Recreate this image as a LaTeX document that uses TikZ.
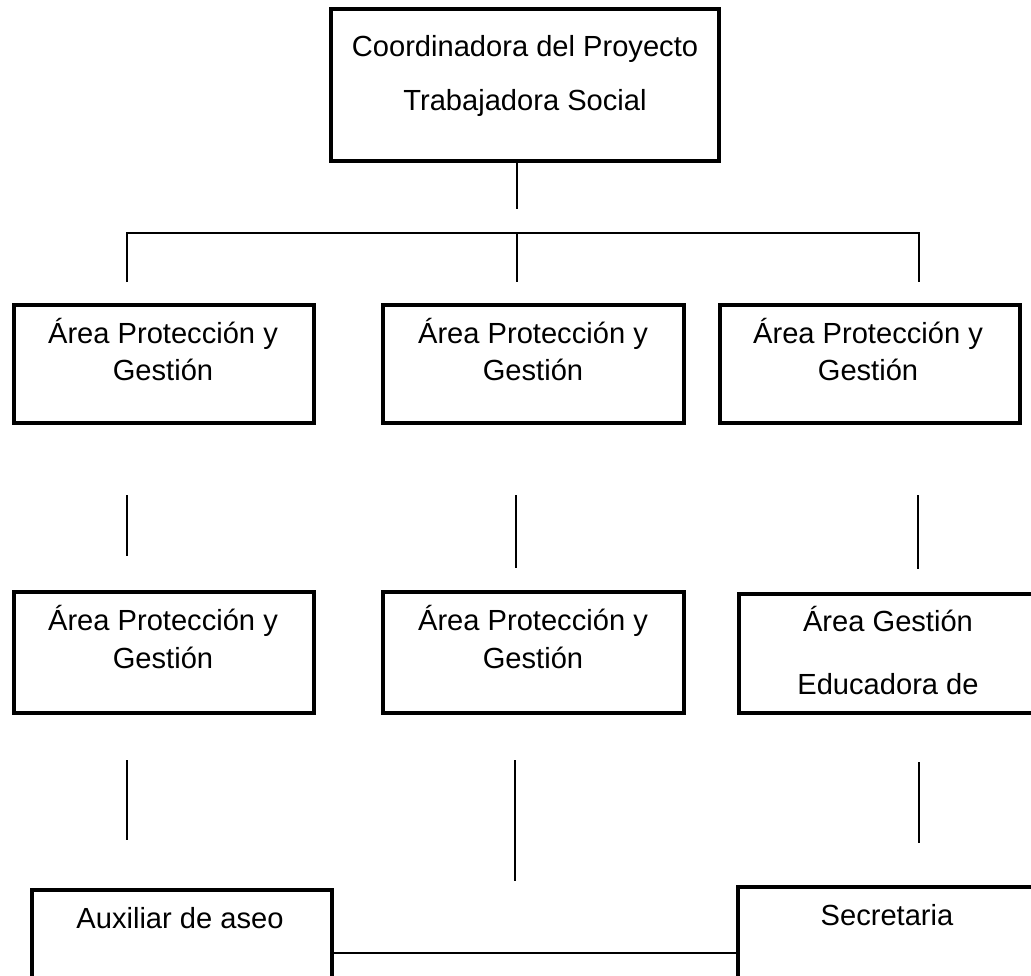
\documentclass[tikz,border=0pt]{standalone}
\usepackage{fontspec}
\setmainfont{Liberation Sans}
\tikzset{
	cargo/.style={draw, line width=1mm, minimum width=7.5cm, minimum height=2.95cm, inner sep=0pt},
	rotulo/.style={anchor=base, inner sep=0pt, font=\fontsize{20.7}{24}\selectfont},
	enlace/.style={line width=1.4pt}
}

\begin{document}
\begin{tikzpicture}[x=0.025cm, y=-0.025cm]
			%%%%% START %%%%%
			\useasboundingbox (0,0) rectangle (1031,975);
			\clip (0,0) rectangle (1031,975);
			
			\node[cargo, minimum width=9.7cm, minimum height=3.8cm] (co) at (525,85) {};
			\node[rotulo] (co-t1) at (525,56) {Coordinadora del Proyecto};
			\node[rotulo] (co-t2) at (525,110) {Trabajadora Social};
			
			\node[cargo] (a1) at (164,364) {};
			\node[cargo] (a2) at (533.5,364) {};
			\node[cargo] (a3) at (870,364) {};
			\node[rotulo] (a1-t1) at (163,343) {Área Protección y};
			\node[rotulo] (a1-t2) at (163,380) {Gestión};
			\node[rotulo] (a2-t1) at (533,343) {Área Protección y};
			\node[rotulo] (a2-t2) at (533,380) {Gestión};
			\node[rotulo] (a3-t1) at (868,343) {Área Protección y};
			\node[rotulo] (a3-t2) at (868,380) {Gestión};
			
			\node[cargo, minimum height=3cm] (b1) at (164,652.5) {};
			\node[cargo, minimum height=3cm] (b2) at (533.5,652.5) {};
			\node[cargo, minimum height=2.975cm] (b3) at (889.5,653.5) {};
			\node[rotulo] (b1-t1) at (163,630) {Área Protección y};
			\node[rotulo] (b1-t2) at (163,668) {Gestión};
			\node[rotulo] (b2-t1) at (533,630) {Área Protección y};
			\node[rotulo] (b2-t2) at (533,668) {Gestión};
			\node[rotulo] (b3-t1) at (888,631) {Área Gestión};
			\node[rotulo] (b3-t2) at (888,694) {Educadora de};
			
			\node[cargo, minimum height=3.75cm] (c1) at (182,965) {};
			\node[cargo, minimum height=3.75cm] (c3) at (888.5,962) {};
			\node[rotulo] (c1-t) at (180,928) {Auxiliar de aseo};
			\node[rotulo] (c3-t) at (887,925) {Secretaria};
			
			% lineas sueltas
			\coordinate (co-b) at (517,209);
			\coordinate (bar-l) at (127,233);
			\coordinate (bar-m) at (517,233);
			\coordinate (bar-r) at (919,233);
			\coordinate (baj-l) at (127,282);
			\coordinate (baj-m) at (517,282);
			\coordinate (baj-r) at (919,282);
			\draw[enlace] (co.south -| co-b) -- (co-b);
			\draw[enlace] (baj-l) -- (bar-l) -- (bar-r) -- (baj-r);
			\draw[enlace] (bar-m) -- (baj-m);
			
			\coordinate (ab-l1) at (127,495);
			\coordinate (ab-l2) at (127,556);
			\coordinate (ab-m1) at (516,495);
			\coordinate (ab-m2) at (516,568);
			\coordinate (ab-r1) at (918,495);
			\coordinate (ab-r2) at (918,569);
			\draw[enlace] (ab-l1) -- (ab-l2);
			\draw[enlace] (ab-m1) -- (ab-m2);
			\draw[enlace] (ab-r1) -- (ab-r2);
			
			\coordinate (bc-l1) at (127,760);
			\coordinate (bc-l2) at (127,840);
			\coordinate (bc-m1) at (515,760);
			\coordinate (bc-m2) at (515,881);
			\coordinate (bc-r1) at (919,762);
			\coordinate (bc-r2) at (919,843);
			\draw[enlace] (bc-l1) -- (bc-l2);
			\draw[enlace] (bc-m1) -- (bc-m2);
			\draw[enlace] (bc-r1) -- (bc-r2);
			
			\coordinate (pie) at (0,953);
			\draw[enlace] (c1.east |- pie) -- (c3.west |- pie);
			%%%%% END %%%%%
\end{tikzpicture}
\end{document}
